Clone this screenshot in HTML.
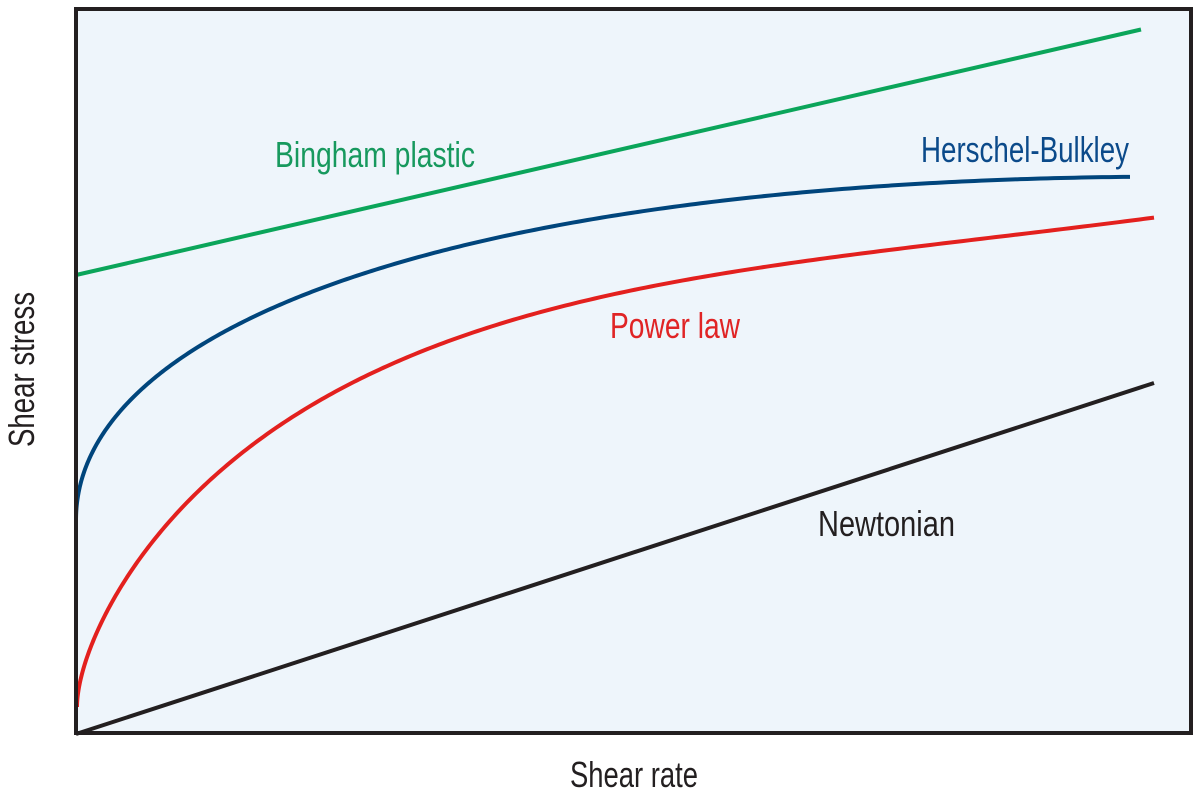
<!DOCTYPE html>
<html>
<head>
<meta charset="utf-8">
<style>
html,body{margin:0;padding:0;background:#fff;}
svg{display:block;}
text{font-family:"Liberation Sans",sans-serif;}
</style>
</head>
<body>
<svg id="s" width="1203" height="801" viewBox="0 0 1203 801" xmlns="http://www.w3.org/2000/svg">
  <rect x="76" y="9" width="1115" height="724" fill="#EEF5FB"/>
  <line x1="76" y1="275" x2="1141" y2="29.5" stroke="#0BA55A" stroke-width="4"/>
  <polyline id="blue" fill="none" stroke="#00457C" stroke-width="4" stroke-linejoin="round"/>
  <polyline id="red" fill="none" stroke="#E3201E" stroke-width="4" stroke-linejoin="round"/>
  <line x1="76" y1="734" x2="1154" y2="383" stroke="#231F20" stroke-width="4"/>
  <rect x="76" y="9" width="1115" height="724" fill="none" stroke="#231F20" stroke-width="4"/>

  <text x="275" y="167" font-size="36" fill="#17995E" textLength="200" lengthAdjust="spacingAndGlyphs">Bingham plastic</text>
  <text x="921" y="162" font-size="36" fill="#0B4A8A" textLength="208" lengthAdjust="spacingAndGlyphs">Herschel-Bulkley</text>
  <text x="610" y="338" font-size="36" fill="#E02425" textLength="130" lengthAdjust="spacingAndGlyphs">Power law</text>
  <text x="818" y="536" font-size="36" fill="#231F20" textLength="137" lengthAdjust="spacingAndGlyphs">Newtonian</text>
  <text x="570" y="787" font-size="36" fill="#231F20" textLength="128" lengthAdjust="spacingAndGlyphs">Shear rate</text>
  <text transform="translate(34,447) rotate(-90)" x="0" y="0" font-size="36" fill="#231F20" textLength="155" lengthAdjust="spacingAndGlyphs">Shear stress</text>
</svg>
<script>
function fitCurve(x0, y0, xEnd, data){
  // data: [x,y]; model drop = sum c_k * u^k, u = sqrt(dx)/S, k=1..4
  var S = Math.sqrt(xEnd - x0);
  var K = 4, A = [], b = [];
  for (var i=0;i<K;i++){ A.push([0,0,0,0]); b.push(0); }
  data.forEach(function(p){
    var u = Math.sqrt(Math.max(p[0]-x0,0))/S, d = y0 - p[1];
    var phi = []; for (var k=1;k<=K;k++) phi.push(Math.pow(u,k));
    for (var i=0;i<K;i++){ b[i]+=phi[i]*d; for (var j=0;j<K;j++) A[i][j]+=phi[i]*phi[j]; }
  });
  // gaussian elimination
  for (var i=0;i<K;i++){
    var m=i; for (var r=i+1;r<K;r++) if (Math.abs(A[r][i])>Math.abs(A[m][i])) m=r;
    var t=A[i];A[i]=A[m];A[m]=t; t=b[i];b[i]=b[m];b[m]=t;
    for (var r=i+1;r<K;r++){ var f=A[r][i]/A[i][i]; for (var c=i;c<K;c++) A[r][c]-=f*A[i][c]; b[r]-=f*b[i]; }
  }
  var c=[0,0,0,0];
  for (var i=K-1;i>=0;i--){ var s=b[i]; for (var j=i+1;j<K;j++) s-=A[i][j]*c[j]; c[i]=s/A[i][i]; }
  var pts=[];
  var N=300;
  for (var n=0;n<=N;n++){
    var u=n/N, dx=u*u*S*S, drop=0;
    for (var k=1;k<=K;k++) drop+=c[k-1]*Math.pow(u,k);
    pts.push((x0+dx).toFixed(2)+","+(y0-drop).toFixed(2));
  }
  return pts.join(" ");
}
var blue=[[76,520],[84,480],[94,453],[107,427],[124,403],[141,387],[174,360],[207,340],[241,323],[274,310],[385,270],[500,238],[614,215],[729,199],[844,188],[959,181],[1074,177.5],[1130,178]];
var red=[[77,707],[82,680],[91,653],[104,620],[121,587],[141,553],[174,510],[207,477],[241,450],[274,434],[385,373],[500,327],[614,295],[729,272],[844,253],[959,238],[1074,227],[1154,221]];
document.getElementById("blue").setAttribute("points",fitCurve(76,520,1130,blue));
document.getElementById("red").setAttribute("points",fitCurve(77,707,1154,red));
</script>
</body>
</html>
